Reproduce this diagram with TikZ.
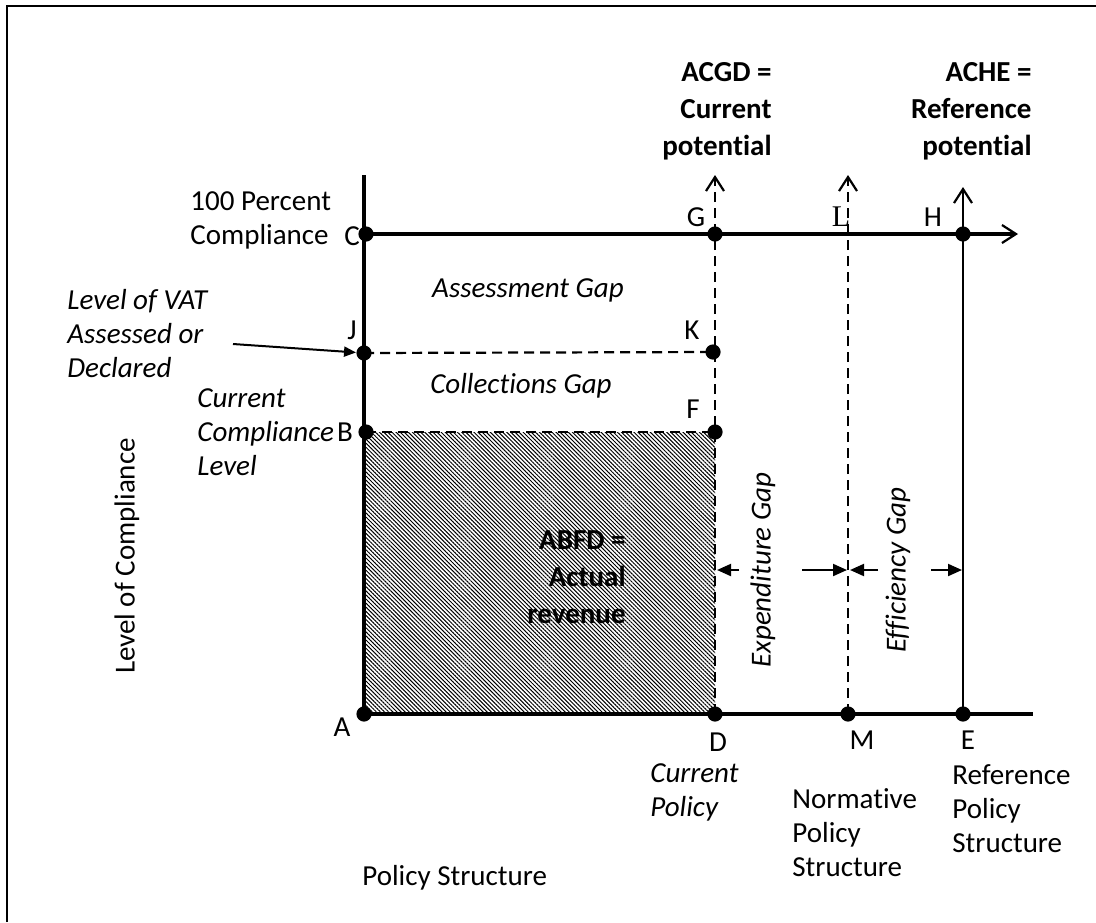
\documentclass[tikz,border=0pt]{standalone}
\usepackage{fontspec}
\setmainfont{Carlito}[Ligatures=NoCommon]
\newfontfamily\serifletter{Liberation Serif}
\usetikzlibrary{arrows.meta,patterns.meta}

\tikzset{
  dot/.style={circle,fill=black,inner sep=0pt,minimum size=7.6pt},
  axis/.style={line width=1.8pt},
  guide/.style={line width=1.1pt,dash pattern=on 5pt off 3pt},
  txt/.style={inner sep=0pt,font=\fontsize{14.5}{17}\selectfont},
  itxt/.style={txt,font=\fontsize{14.5}{17}\selectfont\itshape},
  btxt/.style={inner sep=0pt,font=\fontsize{14.5}{18.5}\selectfont\bfseries},
  openhead/.style={-{Straight Barb[length=7pt,width=9pt,line width=1.1pt]}},
  gaparrow/.style={line width=1pt,-{Triangle[length=7pt,width=6pt]}}
}

\begin{document}
\begin{tikzpicture}[x=0.5pt,y=-0.5pt]
  \useasboundingbox (0,0) rectangle (1096,922);
  \draw[line width=1pt] (7,922) -- (7,6) -- (1096,6);

  % points of the diagram
  \coordinate (A0) at (364,714);
  \coordinate (F0) at (715,432);
  \fill[pattern={Lines[angle=-45,distance=1.45pt,line width=0.5pt]}] (A0) rectangle (F0);

  \coordinate (ytop) at (364,175);
  \coordinate (xend) at (1033,714);
  \coordinate (hend) at (1018,234);
  \coordinate (gtop) at (715,175);
  \coordinate (ltop) at (848,175);
  \coordinate (etop) at (963,187);

  \node[dot] (A) at (364,714) {};
  \node[dot] (D) at (715,714) {};
  \node[dot] (M) at (848,714) {};
  \node[dot] (E) at (963,714) {};
  \node[dot] (C) at (366,234) {};
  \node[dot] (G) at (715,234) {};
  \node[dot] (H) at (963,234) {};
  \node[dot] (J) at (364,353) {};
  \node[dot] (K) at (713,352) {};
  \node[dot] (B) at (366,432) {};
  \node[dot] (F) at (715,432) {};

  % axes and lines
  \draw[axis] (A.center) -- (ytop);
  \draw[axis] (A.center) -- (xend);
  \draw[axis,openhead] (C.center) -- (hend);
  \draw[line width=1.4pt,openhead] (E.center) -- (etop);
  \draw[guide,openhead] (D.center) -- (gtop);
  \draw[guide,openhead] (M.center) -- (ltop);
  \draw[guide] (J.center) -- (K.center);
  \draw[guide] (B.center) -- (F.center);

  % gap arrows
  \coordinate (ex1) at (739,570);  \coordinate (ex2) at (717,570);
  \coordinate (ex3) at (802,570);  \coordinate (ex4) at (847,570);
  \coordinate (ef1) at (878,570);  \coordinate (ef2) at (850,570);
  \coordinate (ef3) at (931,570);  \coordinate (ef4) at (962,570);
  \draw[gaparrow] (ex1) -- (ex2);
  \draw[gaparrow] (ex3) -- (ex4);
  \draw[gaparrow] (ef1) -- (ef2);
  \draw[gaparrow] (ef3) -- (ef4);

  % letters
  \node[txt] (lA) at (342,727) {A};
  \node[txt] (lB) at (345,432) {B};
  \node[txt] (lC) at (352,236) {C};
  \node[txt] (lD) at (718,742) {D};
  \node[txt] (lE) at (968,740) {E};
  \node[txt] (lF) at (693,409) {F};
  \node[txt] (lG) at (696,217) {G};
  \node[txt] (lH) at (933,217) {H};
  \node[txt] (lJ) at (352,330) {J};
  \node[txt] (lK) at (692,330) {K};
  \node[txt,font=\fontsize{15}{17}\serifletter] (lL) at (841,217) {L};
  \node[txt] (lM) at (862,740) {M};

  % texts
  \node[btxt,align=right,anchor=east] (acgd) at (772,111) {ACGD =\\Current\\potential};
  \node[btxt,align=right,anchor=east] (ache) at (1032,111) {ACHE =\\Reference\\potential};
  \node[btxt,align=right,anchor=east] (abfd) at (626,577) {ABFD =\\Actual\\revenue};
  \node[txt,align=left,anchor=west] (full) at (190,220) {100 Percent\\Compliance};
  \node[itxt,align=left,anchor=west] (vat) at (67,334) {Level of VAT\\Assessed or\\Declared};
  \node[itxt,align=left,anchor=west] (ccl) at (197,432) {Current\\Compliance\\Level};
  \node[itxt] (agap) at (528,290) {Assessment Gap};
  \node[itxt] (cgap) at (521,386) {Collections Gap};
  \node[itxt,rotate=90] (xgap) at (763,570) {Expenditure Gap};
  \node[itxt,rotate=90] (fgap) at (898,570) {Efficiency Gap};
  \node[txt,rotate=90] (loc) at (127,556) {Level of Compliance};
  \node[itxt,align=left,anchor=west] (cpol) at (650,792) {Current\\Policy};
  \node[txt,align=left,anchor=west] (npol) at (792,833) {Normative\\Policy\\Structure};
  \node[txt,align=left,anchor=west] (rpol) at (952,809) {Reference\\Policy\\Structure};
  \node[txt,anchor=west] (pstr) at (362,878) {Policy Structure};

  \draw[line width=1pt,-{Triangle[length=6pt,width=5pt]}] (233,344) -- (J);
\end{tikzpicture}
\end{document}
